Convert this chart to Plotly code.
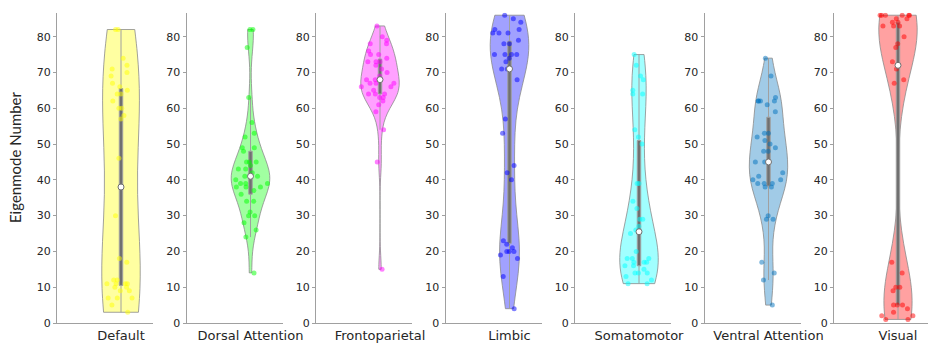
import numpy as np
import plotly.graph_objects as go

categories = ["Default", "Dorsal Attention", "Frontoparietal", "Limbic",
              "Somatomotor", "Ventral Attention", "Visual"]

default_vals = [82, 82, 74, 72, 71, 70, 69, 67, 66, 65, 64, 64, 62, 60, 60, 58, 57, 46,
                30, 18, 17, 12, 12, 11, 11, 11, 11, 10, 10, 9, 9, 7, 7, 7, 5, 3]
dorsal_vals = [82, 82, 77, 63, 56, 53, 52, 49, 49, 48, 45, 45, 45, 44, 43, 43, 42, 41, 41,
               41, 40, 39, 39, 39, 38, 38, 38, 37, 36, 34, 34, 31, 30, 30, 28, 26, 24, 14]
fronto_vals = [83, 80, 79, 78, 78, 76, 75, 75, 74, 73, 73, 73, 72, 71, 70, 69, 68, 68, 67,
               67, 67, 66, 66, 65, 64, 64, 64, 63, 63, 62, 61, 59, 54, 45, 15]
limbic_vals = [86, 85, 84, 82, 82, 81, 81, 81, 79, 78, 78, 75, 75, 75, 75, 74, 73, 71, 71,
               68, 57, 53, 44, 42, 40, 23, 22, 21, 20, 20, 20, 19, 18, 13, 4]
somato_vals = [75, 72, 69, 68, 65, 64, 64, 54, 52, 50, 39, 39, 34, 32, 29, 29, 27, 26, 25,
               20, 18, 18, 18, 17, 17, 17, 16, 16, 15, 14, 14, 14, 13, 12, 11, 11]
ventral_vals = [74, 69, 63, 62, 62, 62, 62, 61, 59, 53, 53, 52, 51, 50, 49, 48, 48, 45, 45,
                42, 41, 40, 40, 39, 39, 39, 38, 38, 30, 29, 29, 17, 14, 12, 5]
visual_vals = [86, 86, 86, 86, 86, 86, 85, 85, 84, 84, 83, 83, 83, 80, 78, 77, 73, 71, 68,
               67, 17, 14, 10, 10, 9, 5, 5, 5, 4, 3, 2, 2, 1, 1]

series = [default_vals, dorsal_vals, fronto_vals, limbic_vals,
          somato_vals, ventral_vals, visual_vals]
colors = [(255, 255, 0), (0, 255, 0), (255, 0, 255), (0, 0, 255),
          (0, 255, 255), (0, 114, 189), (255, 0, 0)]

y_ticks = [0, 10, 20, 30, 40, 50, 60, 70, 80]

W, H = 928, 344
left0 = 57.0
step = 129.5
pw = 96.0
y_bot = 323.0
y_top = 12.7

fig = go.Figure()
layout = dict(
    width=W, height=H, margin=dict(l=0, r=0, t=0, b=0, autoexpand=False),
    paper_bgcolor="white", plot_bgcolor="white", showlegend=False,
    font=dict(family="DejaVu Sans", color="#262626"),
)

for i, (cat, vals, col) in enumerate(zip(categories, series, colors)):
    v = np.array(vals, dtype=float)
    n = len(v)
    med = np.median(v)
    sig = np.median(np.abs(v - med)) / 0.6745
    bw = sig * (4.0 / (3.0 * n)) ** 0.2
    suf = "" if i == 0 else str(i + 1)
    xa = "x" + suf
    ya = "y" + suf
    rgb = "%d,%d,%d" % col
    fig.add_trace(go.Violin(
        y=v, x0=1, xaxis=xa, yaxis=ya, name=cat,
        width=0.6, spanmode="hard", bandwidth=bw, scalemode="width",
        fillcolor="rgba(%s,0.37)" % rgb,
        line=dict(color="#8a8a8a", width=0.8),
        points="all", pointpos=0, jitter=1.0,
        marker=dict(color="rgba(%s,0.5)" % rgb, size=5, line=dict(width=0)),
        box=dict(visible=True, width=0.09, fillcolor="#707070",
                 line=dict(color="#a0a0a0", width=1)),
        meanline=dict(visible=False),
        hoverinfo="skip",
    ))
    fig.add_trace(go.Scatter(
        x=[1], y=[med], xaxis=xa, yaxis=ya, mode="markers",
        marker=dict(color="white", size=6, line=dict(color="#707070", width=1)),
        hoverinfo="skip",
    ))
    x0 = left0 + step * i
    x1 = min(x0 + pw, W)
    xmax = 1.5 * (x1 - x0) / pw
    layout["xaxis" + suf] = dict(
        domain=[x0 / W, x1 / W], anchor=ya, range=[0, xmax], automargin=False,
        tickvals=[1], ticktext=[cat], showgrid=False, zeroline=False,
        showline=True, linecolor="#a0a0a0", linewidth=1, ticks="",
        tickfont=dict(size=13, family="DejaVu Sans", color="#262626"),
    )
    layout["yaxis" + suf] = dict(
        domain=[(H - y_bot) / H, (H - y_top) / H], anchor=xa, automargin=False,
        range=[0, 86.7], tickvals=y_ticks, showgrid=False, zeroline=False,
        showline=True, linecolor="#a0a0a0", linewidth=1,
        ticks="outside", ticklen=3, tickcolor="#a0a0a0",
        tickfont=dict(size=11, family="DejaVu Sans", color="#262626"),
    )

layout["annotations"] = [dict(
    text="Eigenmode Number", x=15 / W, y=(H - 157) / H, xref="paper", yref="paper",
    showarrow=False, textangle=-90, xanchor="center", yanchor="middle",
    font=dict(size=15, family="Lato", color="#262626"),
)]
layout["violinmode"] = "overlay"
fig.update_layout(**layout)
fig.write_html("out.html")
